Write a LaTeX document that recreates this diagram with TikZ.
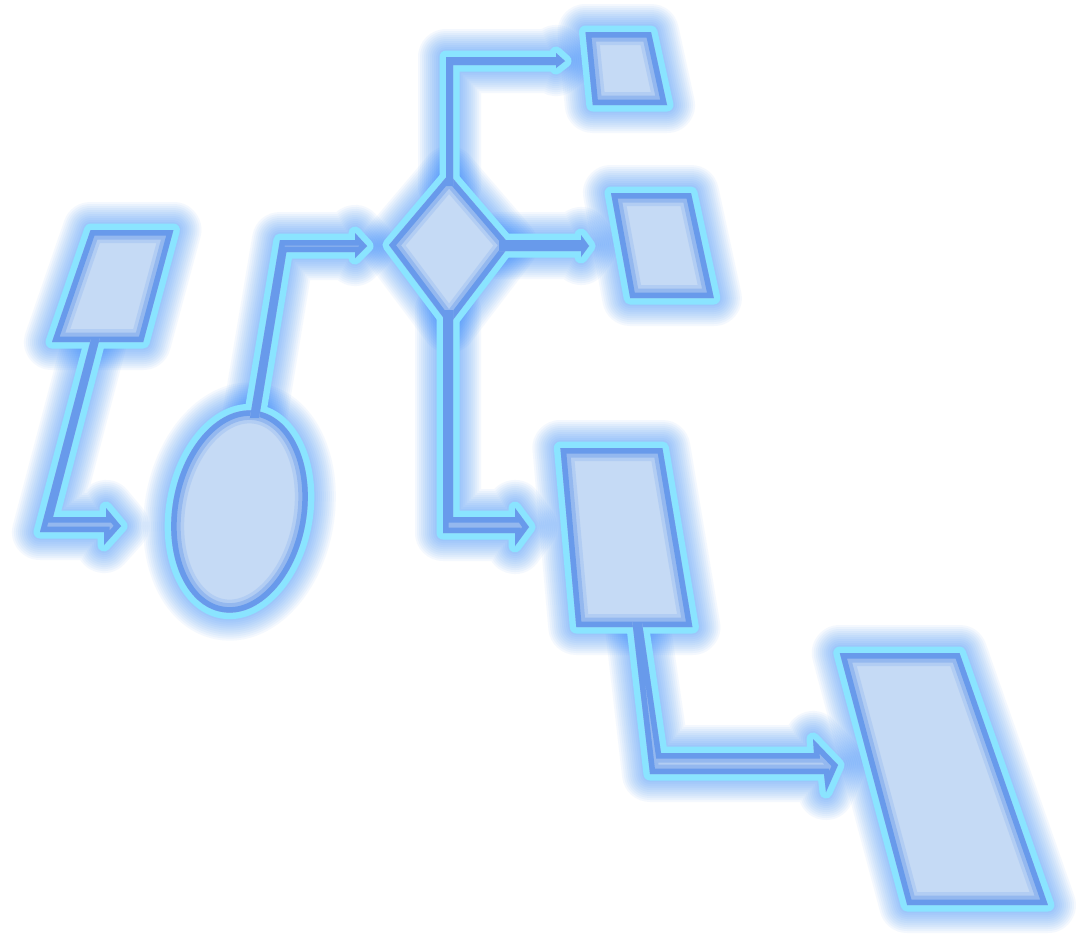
\documentclass[tikz,border=0pt]{standalone}
\definecolor{glowc}{RGB}{45,135,250}
\definecolor{edgec}{RGB}{138,228,255}
\definecolor{bandc}{RGB}{104,154,235}
\definecolor{fillc}{RGB}{197,218,245}
\pgfdeclarelayer{bg}
\pgfdeclarelayer{glow}
\pgfdeclarelayer{edge}
\pgfsetlayers{bg,glow,edge,main}
\newcommand{\neonshape}[1]{%
 \begin{pgfonlayer}{glow}
  \foreach \w in {56,52,...,16}{\draw[glowc, opacity=0.05, line width=\w pt, line join=round] #1;}
 \end{pgfonlayer}
 \begin{pgfonlayer}{edge}
  \draw[edgec, line width=13pt, line join=round] #1;
 \end{pgfonlayer}
 \fill[fillc] #1;
 \begin{scope}
  \clip #1;
  \draw[bandc, opacity=0.2, line width=26pt] #1;
  \draw[bandc, opacity=0.4, line width=19pt] #1;
  \draw[bandc, line width=11pt] #1;
 \end{scope}
}
\begin{document}
\begin{tikzpicture}[x=1pt,y=-1pt]
\begin{pgfonlayer}{bg}
\fill[white] (0,0) rectangle (1080,938);
\end{pgfonlayer}
\useasboundingbox (0,0) rectangle (1080,938);
% shapes
\neonshape{(90.6,230) -- (173.4,230) -- (143.2,342) -- (52,342) -- cycle}
\neonshape{[rotate around={-10:(239.5,511.5)}] (239.5,511.5) ellipse [x radius=67, y radius=102]}
\neonshape{(389,245) -- (449,174) -- (510,245) -- (449,325) -- cycle}
\neonshape{(585.5,32) -- (651,32) -- (667,105) -- (592.8,105) -- cycle}
\neonshape{(611,193) -- (691,193) -- (713.8,298) -- (630.2,298) -- cycle}
\neonshape{(560.4,448) -- (662.4,448) -- (692.4,627) -- (576.3,627) -- cycle}
\neonshape{(839.8,653) -- (959.5,653) -- (1047.9,905) -- (907.2,905) -- cycle}
% arrows
\neonshape{(91.3,338) -- (99.8,338) -- (53,517) -- (106,517) -- (106,508) -- (121,526) -- (104,545) -- (104,532) -- (40,532) -- cycle}
\neonshape{(249.9,418) -- (280,240) -- (355,240) -- (355,233) -- (367,246) -- (355,258) -- (355,252) -- (286.4,252) -- (259,418) -- cycle}
\neonshape{(446,186) -- (446,57) -- (556,57) -- (556,53) -- (565,61) -- (556,68) -- (556,65) -- (453,65) -- (453,186) -- cycle}
\neonshape{(499,240) -- (581,240) -- (581,235) -- (589,246) -- (581,257) -- (581,251) -- (499,251) -- cycle}
\neonshape{(443,310) -- (453,310) -- (453,517) -- (515,517) -- (515,508) -- (529,527) -- (515,546) -- (515,533) -- (443,533) -- cycle}
\neonshape{(632.4,622) -- (641.9,622) -- (661,753) -- (814,753) -- (813,739) -- (838,765) -- (826,792) -- (824,774) -- (650,774) -- cycle}
\end{tikzpicture}
\end{document}
